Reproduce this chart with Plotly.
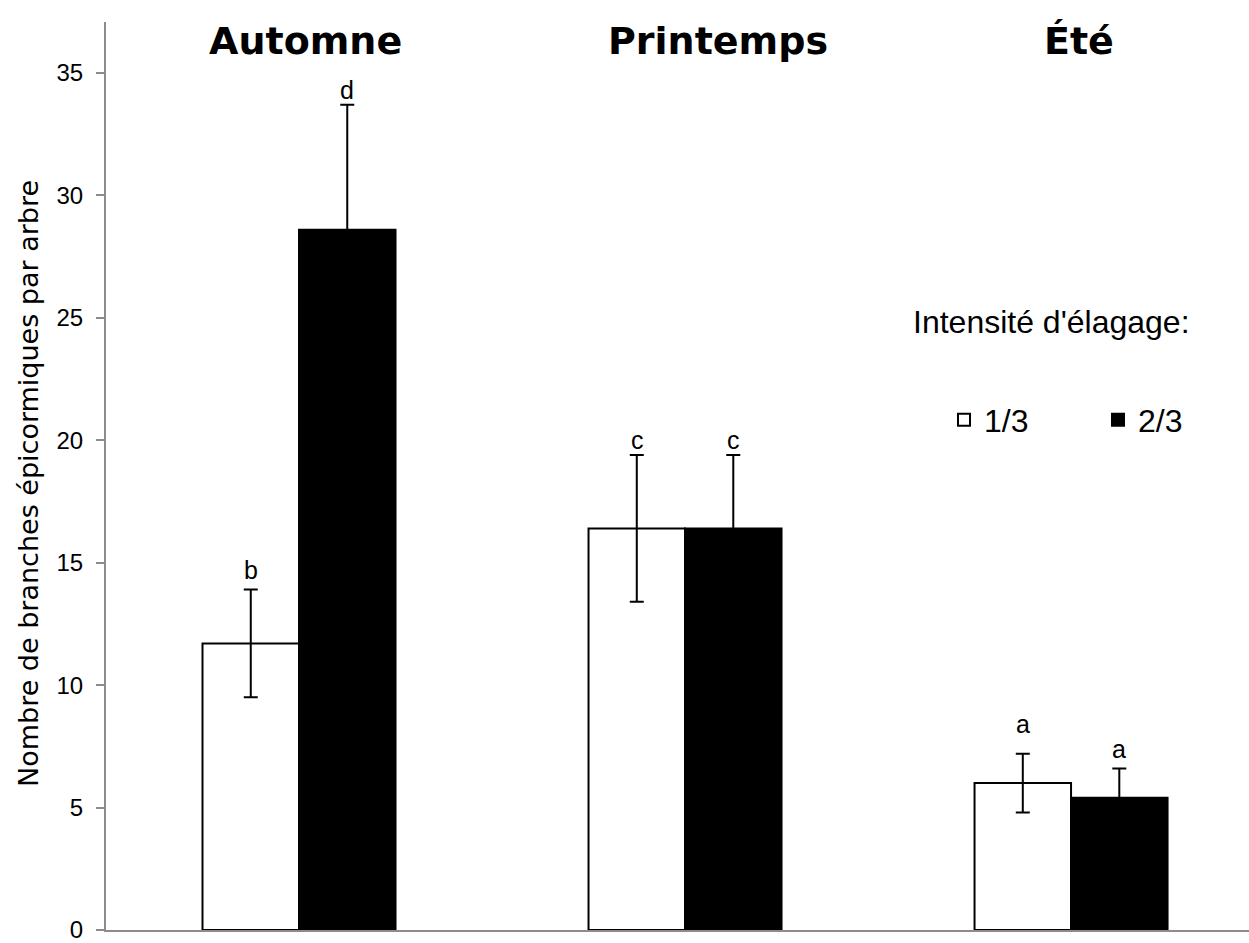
import plotly.graph_objects as go

seasons = ["Automne", "Printemps", "Été"]
series_names = ["1/3", "2/3"]
values_13 = [11.7, 16.4, 6.0]
values_23 = [28.6, 16.4, 5.4]
err_13 = [2.2, 3.0, 1.2]
err_23 = [5.1, 3.0, 1.2]
letters_13 = ["b", "c", "a"]
letters_23 = ["d", "c", "a"]
letter_y_13 = [14.7, 20.0, 8.4]
letter_y_23 = [34.3, 20.0, 7.4]
season_shift = [6, 33, 8]

AX = "#8c8c8c"
PL, PW = 106, 1143
PT, PB = 22, 930
PH = PB - PT
fig = go.Figure()
fig.add_trace(go.Bar(
    x=seasons, y=values_13, name=series_names[0],
    marker=dict(color="white", line=dict(color="black", width=2)),
    error_y=dict(type="data", array=err_13, visible=True, color="black", thickness=2, width=7),
))
fig.add_trace(go.Bar(
    x=seasons, y=values_23, name=series_names[1],
    marker=dict(color="black", line=dict(color="black", width=2)),
    error_y=dict(type="data", array=err_23, visible=True, color="black", thickness=2, width=7),
))

ann = []
for i, s in enumerate(seasons):
    ann.append(dict(x=s, y=letter_y_13[i], text=letters_13[i], xref="x", yref="y",
                    xshift=-48, showarrow=False, yanchor="middle",
                    font=dict(family="Liberation Sans, Arial", size=25, color="black")))
    ann.append(dict(x=s, y=letter_y_23[i], text=letters_23[i], xref="x", yref="y",
                    xshift=48, showarrow=False, yanchor="middle",
                    font=dict(family="Liberation Sans, Arial", size=25, color="black")))
    ann.append(dict(x=s, y=(PB - 41) / PH, text="<b>" + s + "</b>", xref="x", yref="paper",
                    xshift=season_shift[i], showarrow=False, yanchor="middle",
                    font=dict(family="DejaVu Sans", size=38, color="black")))

ann.append(dict(x=(1051 - PL) / PW, y=(PB - 322) / PH, text="Intensité d'élagage:",
                xref="paper", yref="paper",
                showarrow=False, xanchor="center", yanchor="middle",
                font=dict(family="Liberation Sans, Arial", size=32, color="black")))
ann.append(dict(x=(28 - PL) / PW, y=(PB - 484) / PH, text="Nombre de branches épicormiques par arbre",
                xref="paper", yref="paper", textangle=-90, showarrow=False,
                xanchor="center", yanchor="middle",
                font=dict(family="DejaVu Sans", size=27, color="black")))

fig.update_layout(
    width=1249, height=943,
    margin=dict(l=PL, r=0, t=PT, b=943 - PB, autoexpand=False),
    paper_bgcolor="white", plot_bgcolor="white",
    barmode="group", bargap=0.5, bargroupgap=0,
    annotations=ann,
    showlegend=True,
    legend=dict(orientation="h", x=(944 - PL) / PW, y=(PB - 420) / PH,
                xanchor="left", yanchor="middle",
                font=dict(family="Liberation Sans, Arial", size=32, color="black"),
                entrywidth=109, bgcolor="rgba(0,0,0,0)"),
    xaxis=dict(range=[-0.5, 2.461], showticklabels=False, ticks="", showgrid=False,
               showline=True, linecolor=AX, linewidth=2, zeroline=False, fixedrange=True),
    yaxis=dict(range=[0, 37.08], tickmode="array", tickvals=[0, 5, 10, 15, 20, 25, 30, 35],
               ticks="outside", ticklen=8, tickcolor=AX, tickwidth=2,
               showline=True, linecolor=AX, linewidth=2, showgrid=False, zeroline=False,
               ticklabelstandoff=8, ticklabeloverflow="allow",
               tickfont=dict(family="Liberation Sans, Arial", size=24, color="black")),
)

fig.write_html("out.html")
